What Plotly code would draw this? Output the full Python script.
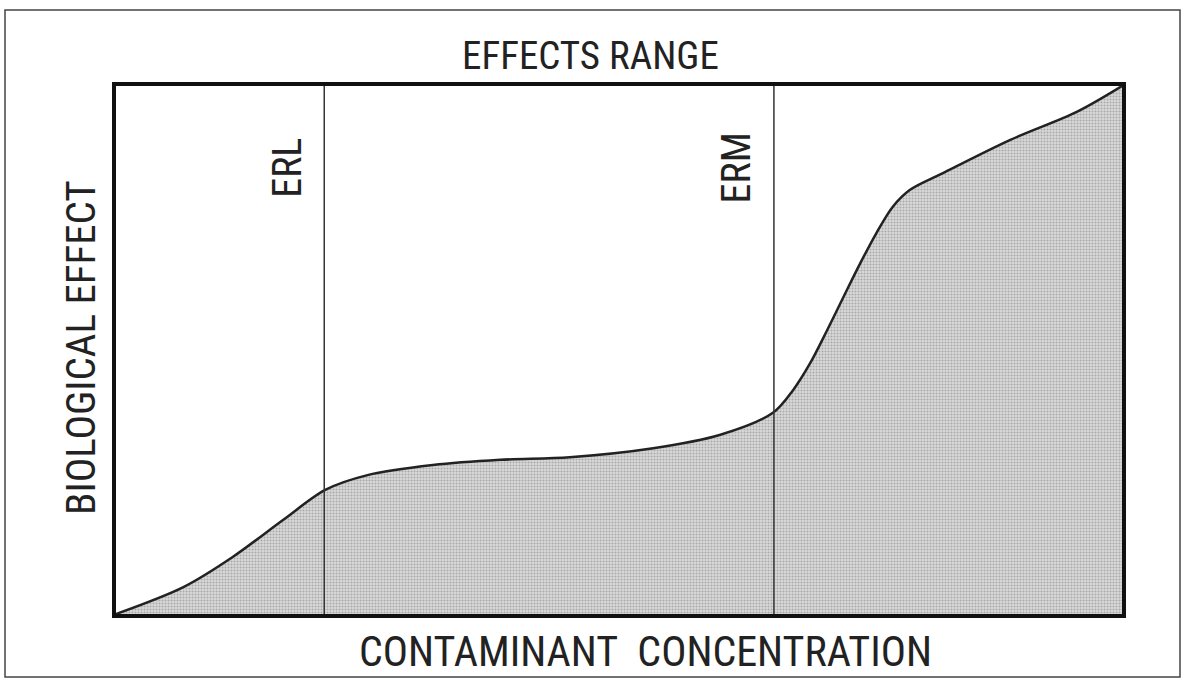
import plotly.graph_objects as go

# Data (arbitrary 0-100 units)
concentration = [0, 6.7, 11.6, 16.6, 20.8, 25.0, 31.5, 38.2, 45.1, 53.4, 60.0, 65.3,
                 67.3, 69.0, 70.7, 72.3, 74.0, 75.6, 77.2, 78.9, 82.2, 88.9, 95.5, 100]
effect = [0, 5.1, 10.8, 17.8, 23.5, 26.3, 28.2, 29.2, 29.7, 31.4, 33.9, 38.1,
          42.4, 47.5, 53.8, 60.0, 66.5, 72.2, 77.1, 80.3, 83.5, 89.8, 95.1, 100]
thresholds = {"ERL": 20.7, "ERM": 65.4}

title_top = "EFFECTS RANGE"
x_title = "CONTAMINANT&nbsp;&nbsp;CONCENTRATION"
y_title = "BIOLOGICAL EFFECT"

FONT = "Liberation Sans Narrow, Arial Narrow, Roboto Condensed, Lato, sans-serif"

W, H = 1186, 681
L, R, T, B = 116, 64, 86, 67
PW, PH = W - L - R, H - T - B

def px(x):
    return (x - L) / PW

def py(y):
    return (H - B - y) / PH

fig = go.Figure()
fig.add_trace(go.Scatter(
    x=concentration, y=effect, mode="lines",
    line=dict(color="#222222", width=2.5, shape="spline", smoothing=0.9),
    fill="tozeroy",
    fillcolor="#cccccc",
    fillpattern=dict(shape=".", fgcolor="#777777", bgcolor="#dadada", size=3, solidity=0.4),
    hoverinfo="skip", showlegend=False,
))

for name, xv in thresholds.items():
    fig.add_shape(type="line", xref="x", yref="y", x0=xv, x1=xv, y0=0, y1=100,
                  line=dict(color="#333333", width=1.5), layer="above")
    fig.add_annotation(x=xv, xref="x", xanchor="right", xshift=-12,
                       y=py(168), yref="paper", yanchor="middle",
                       text=name, textangle=-90, showarrow=False,
                       font=dict(family=FONT, size=40, color="#222222"))

# outer frame
fig.add_shape(type="rect", xref="paper", yref="paper",
              x0=px(5), x1=px(1180), y0=py(677), y1=py(10),
              line=dict(color="#444444", width=1.5), layer="below")

fig.add_annotation(x=px(590), y=py(56), xref="paper", yref="paper", text=title_top,
                   showarrow=False, xanchor="center", yanchor="middle",
                   font=dict(family=FONT, size=39, color="#222222"))
fig.add_annotation(x=px(645), y=py(651), xref="paper", yref="paper", text=x_title,
                   showarrow=False, xanchor="center", yanchor="middle",
                   font=dict(family=FONT, size=42, color="#222222"))
fig.add_annotation(x=px(81), y=py(348), xref="paper", yref="paper", text=y_title,
                   showarrow=False, xanchor="center", yanchor="middle", textangle=-90,
                   font=dict(family=FONT, size=41, color="#222222"))

fig.update_xaxes(range=[0, 100], showgrid=False, zeroline=False, showticklabels=False,
                 ticks="", showline=True, mirror=True, linecolor="#111111", linewidth=3.5)
fig.update_yaxes(range=[0, 100], showgrid=False, zeroline=False, showticklabels=False,
                 ticks="", showline=True, mirror=True, linecolor="#111111", linewidth=3.5)

fig.update_layout(width=W, height=H, margin=dict(l=L, r=R, t=T, b=B, autoexpand=False),
                  paper_bgcolor="white", plot_bgcolor="white", showlegend=False)

fig.write_html("out.html", config={"displayModeBar": False},
               post_script="document.body.style.margin='0';document.body.style.overflow='hidden';")
